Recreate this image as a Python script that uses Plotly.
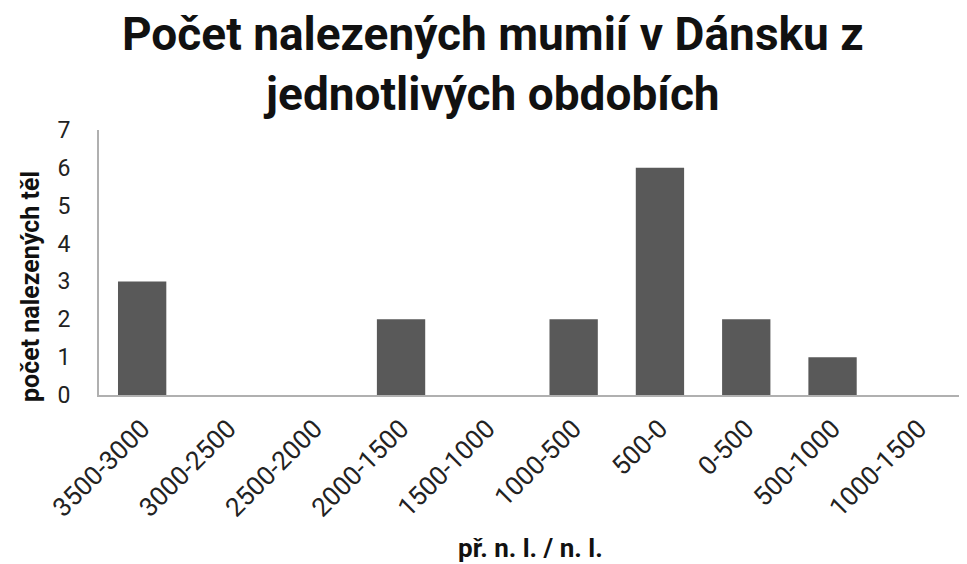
import plotly.graph_objects as go

categories = ["3500-3000", "3000-2500", "2500-2000", "2000-1500", "1500-1000",
              "1000-500", "500-0", "0-500", "500-1000", "1000-1500"]
counts = [3, 0, 0, 2, 0, 2, 6, 2, 1, 0]

title_text = "Počet nalezených mumií v Dánsku z<br>jednotlivých obdobích"
y_title = "počet nalezených těl"
x_title = "př. n. l. / n. l."

FONT = "Roboto, Open Sans, sans-serif"

fig = go.Figure(go.Bar(
    x=categories, y=counts,
    marker=dict(color="#595959", line=dict(width=0)),
))

fig.update_layout(
    width=967, height=564,
    paper_bgcolor="white", plot_bgcolor="white",
    margin=dict(l=91, r=13, t=122, b=177),
    bargap=0.44,
    showlegend=False,
    font=dict(family=FONT, color="#1a1a1a"),
    annotations=[
        dict(text=f"<b>{title_text}</b>", xref="paper", yref="paper",
             x=0.4566, y=1.25, xanchor="center", yanchor="middle",
             showarrow=False, font=dict(size=46, color="#111111", family=FONT)),
        dict(text=f"<b>{y_title}</b>", xref="paper", yref="paper",
             x=-0.08, y=0.411, xanchor="center", yanchor="middle", textangle=-90,
             showarrow=False, font=dict(size=25, color="#111111", family=FONT)),
        dict(text=f"<b>{x_title}</b>", xref="paper", yref="paper",
             x=0.5, y=-0.577, xanchor="center", yanchor="middle",
             showarrow=False, font=dict(size=26, color="#111111", family=FONT)),
    ],
)

fig.update_xaxes(
    showline=True, linecolor="#b0b0b0", linewidth=2,
    showgrid=False, ticks="outside", ticklen=6, tickcolor="rgba(0,0,0,0)",
    tickangle=-45,
    tickfont=dict(size=26, color="#222222"),
)
fig.update_yaxes(
    range=[0, 7], dtick=1, showline=True, linecolor="#b0b0b0", linewidth=2,
    showgrid=False, zeroline=False, ticks="",
    tickfont=dict(size=23, color="#222222"),
    ticklabelstandoff=22,
)

fig.write_html("out.html")
